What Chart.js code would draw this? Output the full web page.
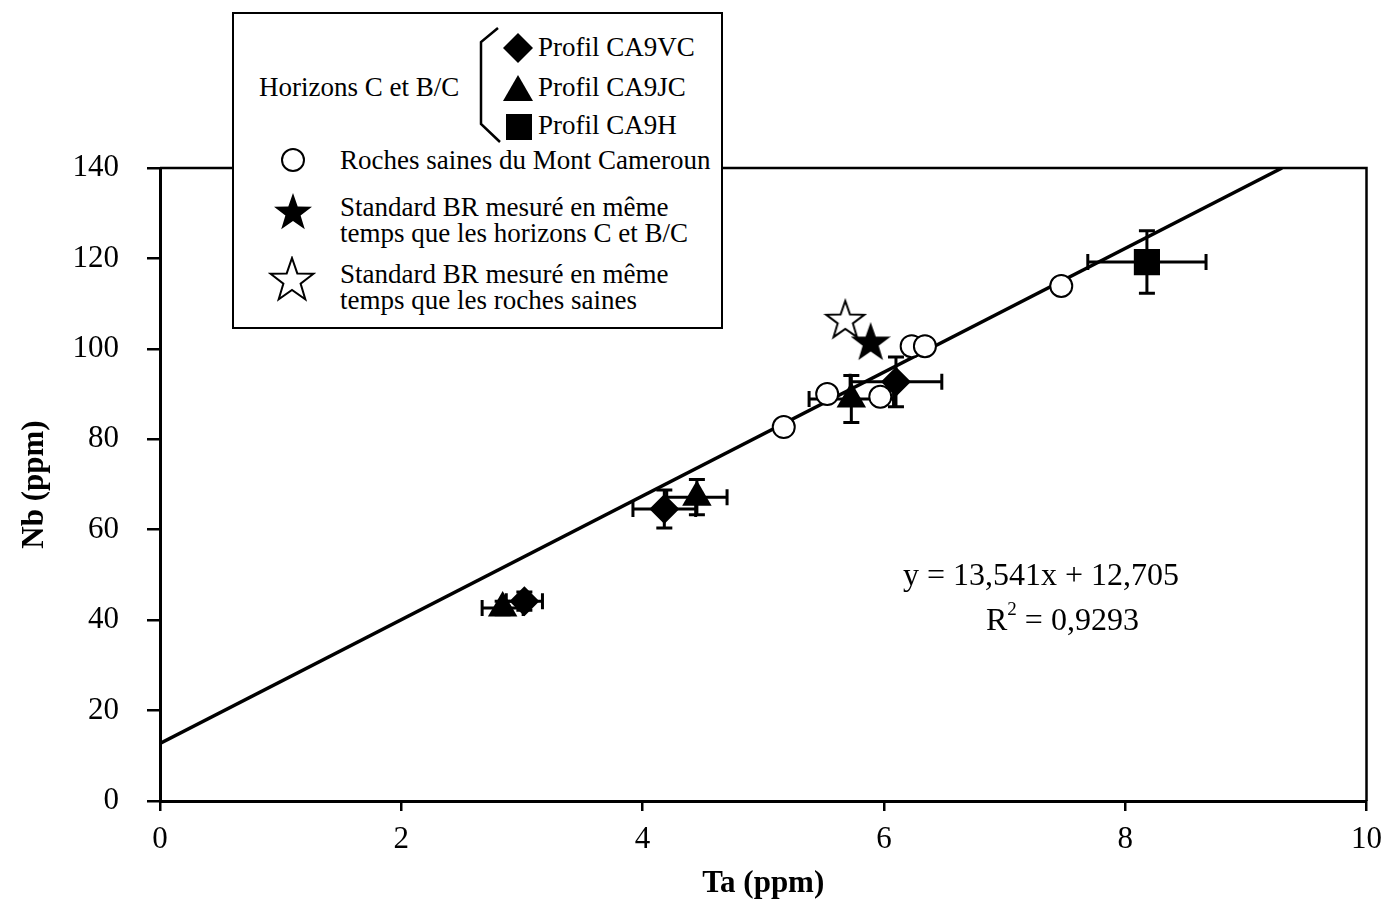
<!DOCTYPE html>
<html>
<head>
<meta charset="utf-8">
<script src="https://cdn.jsdelivr.net/npm/chart.js@4"></script>
<style>
  body { margin: 0; background: #fff; }
  #wrap { position: relative; width: 1392px; height: 904px; font-family: 'Liberation Serif', 'Times New Roman', serif; color: #000; }
  #legend { position: absolute; left: 232px; top: 12px; width: 491px; height: 317px; box-sizing: border-box; border: 2px solid #000; background: #fff; font-size: 27px; }
  #legend .t { position: absolute; white-space: nowrap; line-height: 26px; }
  #legend svg { position: absolute; }
  .eq { position: absolute; font-size: 32px; white-space: nowrap; }
  .eq sup { font-size: 19px; position: relative; top: -3px; vertical-align: top; }
</style>
</head>
<body>
<div id="wrap">
  <canvas id="c" width="1392" height="904"></canvas>

  <div id="legend">
    <span class="t" style="left:25px; top:60px;">Horizons C et B/C</span>
    <svg style="left:244px; top:12px;" width="26" height="118"><polyline points="20,2 3,16 3,98 22,116" fill="none" stroke="#000" stroke-width="2.5"/></svg>
    <svg style="left:268px; top:18px;" width="32" height="32"><polygon points="16,1 31,16 16,31 1,16" fill="#000"/></svg>
    <span class="t" style="left:304px; top:20px;">Profil CA9VC</span>
    <svg style="left:268px; top:60px;" width="32" height="28"><polygon points="16,1 31,27 1,27" fill="#000"/></svg>
    <span class="t" style="left:304px; top:60px;">Profil CA9JC</span>
    <svg style="left:272px; top:100px;" width="26" height="26"><rect x="0" y="0" width="26" height="26" fill="#000"/></svg>
    <span class="t" style="left:304px; top:98px;">Profil CA9H</span>
    <svg style="left:46px; top:133px;" width="26" height="26"><circle cx="13" cy="13" r="11" fill="#fff" stroke="#000" stroke-width="2"/></svg>
    <span class="t" style="left:106px; top:133px;">Roches saines du Mont Cameroun</span>
    <svg style="left:38px; top:178px;" width="42" height="40"><polygon points="21,1 25.7,14.5 40,14.8 28.6,23.5 32.8,37.2 21,29 9.2,37.2 13.4,23.5 2,14.8 16.3,14.5" fill="#000"/></svg>
    <span class="t" style="left:106px; top:180px;">Standard BR mesuré en même</span>
    <span class="t" style="left:106px; top:206px;">temps que les horizons C et B/C</span>
    <svg style="left:34px; top:242px;" width="48" height="46"><polygon points="24,2 29.3,17.4 45.5,17.7 32.6,27.6 37.3,43.2 24,33.9 10.7,43.2 15.4,27.6 2.5,17.7 18.7,17.4" fill="#fff" stroke="#000" stroke-width="2"/></svg>
    <span class="t" style="left:106px; top:247px;">Standard BR mesuré en même</span>
    <span class="t" style="left:106px; top:273px;">temps que les roches saines</span>
  </div>

  <div class="eq" style="left:903px; top:556px;">y = 13,541x + 12,705</div>
  <div class="eq" style="left:986px; top:601px;">R<sup>2</sup> = 0,9293</div>
</div>

<script>
// axes
const xTicks = [0, 2, 4, 6, 8, 10];
const yTicks = [0, 20, 40, 60, 80, 100, 120, 140];

// Profil CA9VC (losanges)
const vcTa = [3.02, 4.18, 6.10];
const vcNb = [44.2, 64.6, 92.7];
const vcTaErr = [0.15, 0.26, 0.38];
const vcNbErr = [2.0, 4.2, 5.5];

// Profil CA9JC (triangles)
const jcTa = [2.84, 4.45, 5.73];
const jcNb = [42.7, 67.2, 88.9];
const jcTaErr = [0.17, 0.25, 0.35];
const jcNbErr = [1.5, 3.9, 5.2];

// Profil CA9H (carré)
const hTa = [8.18];
const hNb = [119.2];
const hTaErr = [0.49];
const hNbErr = [6.9];

// roches saines du Mont Cameroun
const rocTa = [5.17, 5.53, 5.97, 6.23, 6.34, 7.47];
const rocNb = [82.7, 90.0, 89.4, 100.6, 100.6, 113.9];

// standards BR
const brHorTa = [5.89];
const brHorNb = [101.5];
const brRocTa = [5.68];
const brRocNb = [106.4];

// droite de régression (y = 13,541x + 12,705)
const regTa = [0, 9.3];
const regNb = [12.705, 140];

const FONT = "'Liberation Serif', 'Times New Roman', serif";

function pts(xs, ys) {
    return xs.map((v, i) => ({ x: v, y: ys[i] }));
}

// étoile à 5 branches en image (pointStyle)
function starImg(size, filled) {
    const c = document.createElement('canvas');
    c.width = c.height = size;
    const g = c.getContext('2d');
    const cx = size / 2, cy = size / 2 + 1, R = size / 2 - 2, r = R * 0.4;
    g.beginPath();
    for (let k = 0; k < 10; k++) {
        const a = -Math.PI / 2 + k * Math.PI / 5;
        const rr = k % 2 ? r : R;
        g.lineTo(cx + rr * Math.cos(a), cy + rr * Math.sin(a));
    }
    g.closePath();
    g.fillStyle = filled ? '#000' : '#fff';
    g.fill();
    g.lineWidth = 2;
    g.strokeStyle = '#000';
    g.stroke();
    return c;
}

// barres d'erreur, dessinées avant les symboles
const errorBars = {
    id: 'errorBars',
    beforeDatasetsDraw(chart) {
        const { ctx, scales: { x, y } } = chart;
        ctx.save();
        ctx.strokeStyle = '#000';
        ctx.lineWidth = 3;
        chart.data.datasets.forEach(ds => {
            if (!ds.errX) return;
            ds.data.forEach((p, i) => {
                const px = x.getPixelForValue(p.x), py = y.getPixelForValue(p.y);
                const xl = x.getPixelForValue(p.x - ds.errX[i]), xr = x.getPixelForValue(p.x + ds.errX[i]);
                const yt = y.getPixelForValue(p.y + ds.errY[i]), yb = y.getPixelForValue(p.y - ds.errY[i]);
                ctx.beginPath();
                ctx.moveTo(xl, py); ctx.lineTo(xr, py);
                ctx.moveTo(xl, py - 8); ctx.lineTo(xl, py + 8);
                ctx.moveTo(xr, py - 8); ctx.lineTo(xr, py + 8);
                ctx.moveTo(px, yt); ctx.lineTo(px, yb);
                ctx.moveTo(px - 8, yt); ctx.lineTo(px + 8, yt);
                ctx.moveTo(px - 8, yb); ctx.lineTo(px + 8, yb);
                ctx.stroke();
            });
        });
        ctx.restore();
    }
};

// cadre haut et droite de la zone de tracé
const frame = {
    id: 'frame',
    beforeDatasetsDraw(chart) {
        const { ctx, chartArea: a } = chart;
        ctx.save();
        ctx.strokeStyle = '#000';
        ctx.lineWidth = 2.5;
        ctx.beginPath();
        ctx.moveTo(a.left, a.top);
        ctx.lineTo(a.right, a.top);
        ctx.lineTo(a.right, a.bottom);
        ctx.stroke();
        ctx.restore();
    }
};

new Chart(document.getElementById('c'), {
    type: 'scatter',
    data: {
        datasets: [
            { label: 'Profil CA9VC', data: pts(vcTa, vcNb), errX: vcTaErr, errY: vcNbErr,
              pointStyle: 'rectRot', radius: 15, backgroundColor: '#000', borderColor: '#000', borderWidth: 0, order: 1 },
            { label: 'Profil CA9JC', data: pts(jcTa, jcNb), errX: jcTaErr, errY: jcNbErr,
              pointStyle: 'triangle', radius: 17, backgroundColor: '#000', borderColor: '#000', borderWidth: 0, order: 1 },
            { label: 'Profil CA9H', data: pts(hTa, hNb), errX: hTaErr, errY: hNbErr,
              pointStyle: 'rect', radius: 18.5, backgroundColor: '#000', borderColor: '#000', borderWidth: 0, order: 1 },
            { label: 'Roches saines du Mont Cameroun', data: pts(rocTa, rocNb),
              pointStyle: 'circle', radius: 11, backgroundColor: '#fff', borderColor: '#000', borderWidth: 2, order: 2 },
            { label: 'Standard BR (horizons C et B/C)', data: pts(brHorTa, brHorNb),
              pointStyle: starImg(40, true), order: 1 },
            { label: 'Standard BR (roches saines)', data: pts(brRocTa, brRocNb),
              pointStyle: starImg(44, false), order: 1 },
            { type: 'line', label: 'Régression', data: pts(regTa, regNb),
              borderColor: '#000', borderWidth: 3.5, pointRadius: 0, fill: false, order: 10 }
        ]
    },
    options: {
        responsive: false,
        animation: false,
        events: [],
        layout: { padding: { top: 168, right: 24, left: 0, bottom: 0 } },
        plugins: { legend: { display: false }, tooltip: { enabled: false } },
        scales: {
            x: {
                type: 'linear', min: 0, max: 10,
                afterBuildTicks: s => { s.ticks = xTicks.map(v => ({ value: v })); },
                afterFit: s => { s.height = 103; },
                grid: { drawOnChartArea: false, drawTicks: true, tickLength: 10, color: '#000', lineWidth: 2.5 },
                border: { display: true, color: '#000', width: 3 },
                ticks: { color: '#000', font: { family: FONT, size: 31 }, padding: 10, maxRotation: 0 },
                title: { display: true, text: 'Ta (ppm)', color: '#000', font: { family: FONT, size: 31, weight: 'bold' }, padding: { top: 0, bottom: 1 } }
            },
            y: {
                type: 'linear', min: 0, max: 140,
                afterBuildTicks: s => { s.ticks = yTicks.map(v => ({ value: v })); },
                afterFit: s => { s.width = 160; },
                grid: { drawOnChartArea: false, drawTicks: true, tickLength: 13, color: '#000', lineWidth: 2.5 },
                border: { display: true, color: '#000', width: 3 },
                ticks: { color: '#000', font: { family: FONT, size: 31 }, padding: 28 },
                title: { display: true, text: 'Nb (ppm)', color: '#000', font: { family: FONT, size: 31, weight: 'bold' }, padding: { top: 16, bottom: 0 } }
            }
        }
    },
    plugins: [frame, errorBars]
});
</script>
</body>
</html>
